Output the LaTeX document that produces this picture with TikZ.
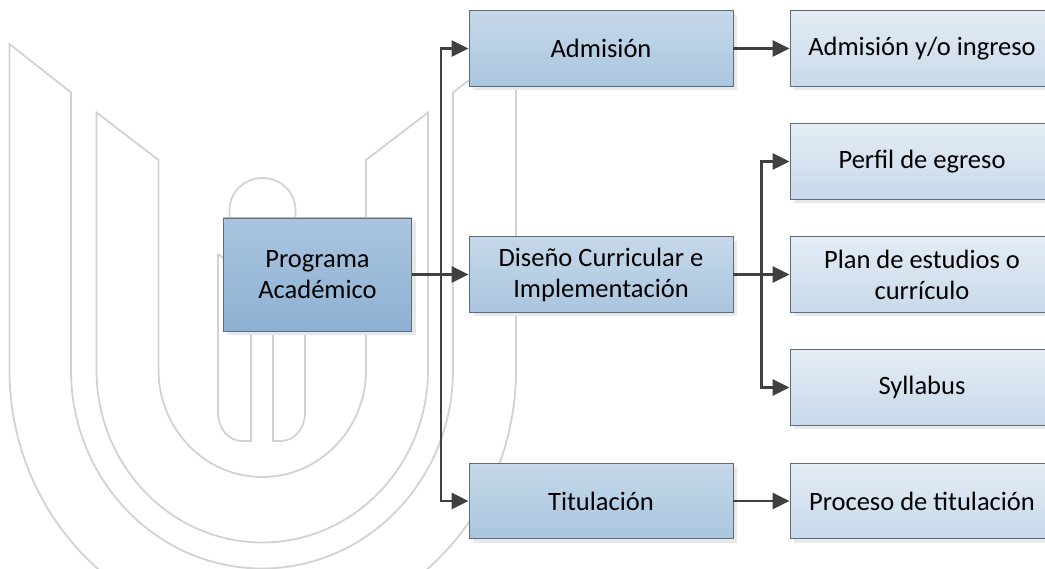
\documentclass[tikz,border=0pt]{standalone}
\usepackage{fontspec}
\setmainfont{Carlito}
\usetikzlibrary{arrows.meta,shadows}
\definecolor{bgline}{HTML}{D2D2D2}
\definecolor{conn}{HTML}{404040}
\definecolor{edge}{HTML}{5F6B76}
\tikzset{
  bgu/.style={draw=bgline,line width=1.8pt,line join=miter},
  boxbase/.style={draw=edge,line width=0.9pt,align=center,text=black,inner sep=0pt,
    font=\fontsize{26.5}{31}\selectfont,
    general shadow={fill=black!9,shadow xshift=4pt,shadow yshift=-4pt}},
  rootbox/.style={boxbase,top color=A1,bottom color=A2,minimum width=188.5pt,minimum height=113pt},
  midbox/.style={boxbase,top color=B1,bottom color=B2,minimum width=264pt,minimum height=75.5pt},
  leafbox/.style={boxbase,top color=C1,bottom color=C2,minimum width=264pt,minimum height=75.5pt},
  link/.style={draw=conn,line width=2.6pt,line join=miter,-{Triangle[length=17pt,width=16pt]}}
}
\definecolor{A1}{HTML}{A9C5DF}\definecolor{A2}{HTML}{8EB1D3}
\definecolor{B1}{HTML}{C6D8E9}\definecolor{B2}{HTML}{A9C6DF}
\definecolor{C1}{HTML}{E4ECF4}\definecolor{C2}{HTML}{C8D9EA}
\begin{document}
\begin{tikzpicture}[x=1pt,y=-1pt]
\useasboundingbox (0,0) rectangle (1045,569);
\begin{scope}
\clip (0,0) rectangle (1045,569);
% outer U
\draw[bgu] (9.5,44) -- (71,92.5) -- (71,370) arc[start angle=180,end angle=360,x radius=191,y radius=-198.5] -- (453,92.5) -- (516,44) -- (516,370)
  arc[start angle=0,end angle=180,x radius=253.25,y radius=262] -- cycle;
% second U
\draw[bgu] (96.5,112.5) -- (158.5,160) -- (158.5,370) arc[start angle=180,end angle=360,x radius=103.75,y radius=-107] -- (366,160) -- (428,112.5) -- (428,370)
  arc[start angle=0,end angle=180,x radius=165.75,y radius=172.5] -- cycle;
% head
\draw[bgu] (229.5,225) -- (229.5,210) arc[start angle=180,end angle=0,x radius=33,y radius=-32] -- (295.5,225);
% stem
\draw[bgu] (218,254) -- (226,260) (218,254) -- (218,413) arc[start angle=180,end angle=270,x radius=24,y radius=-28] -- (251,441) -- (251,320);
\draw[bgu] (273,320) -- (273,441) -- (281,441) arc[start angle=270,end angle=360,x radius=24,y radius=-28] -- (305,320);
\end{scope}
\node[rootbox] (prog) at (317.5,274.5) {Programa\\Académico};
\node[midbox] (adm) at (601,48.5) {Admisión};
\node[midbox] (dis) at (601,274.5) {Diseño Curricular e\\Implementación};
\node[midbox] (tit) at (601,501) {Titulación};
\node[leafbox] (ing) at (922,48.5) {Admisión y/o ingreso};
\node[leafbox] (per) at (922,161.5) {Perfil de egreso};
\node[leafbox] (pla) at (922,274.5) {Plan de estudios o\\currículo};
\node[leafbox] (syl) at (922,387.5) {Syllabus};
\node[leafbox] (pro) at (922,501) {Proceso de titulación};
\coordinate (busl) at (441,274.5);
\coordinate (busr) at (761.5,274.5);
\draw[link] (prog.east) -- (dis.west);
\draw[link] (busl) -- (busl |- adm.west) -- (adm.west);
\draw[link] (busl) -- (busl |- tit.west) -- (tit.west);
\draw[link] (adm.east) -- (ing.west);
\draw[link] (tit.east) -- (pro.west);
\draw[link] (dis.east) -- (pla.west);
\draw[link] (busr) -- (busr |- per.west) -- (per.west);
\draw[link] (busr) -- (busr |- syl.west) -- (syl.west);
\end{tikzpicture}
\end{document}
